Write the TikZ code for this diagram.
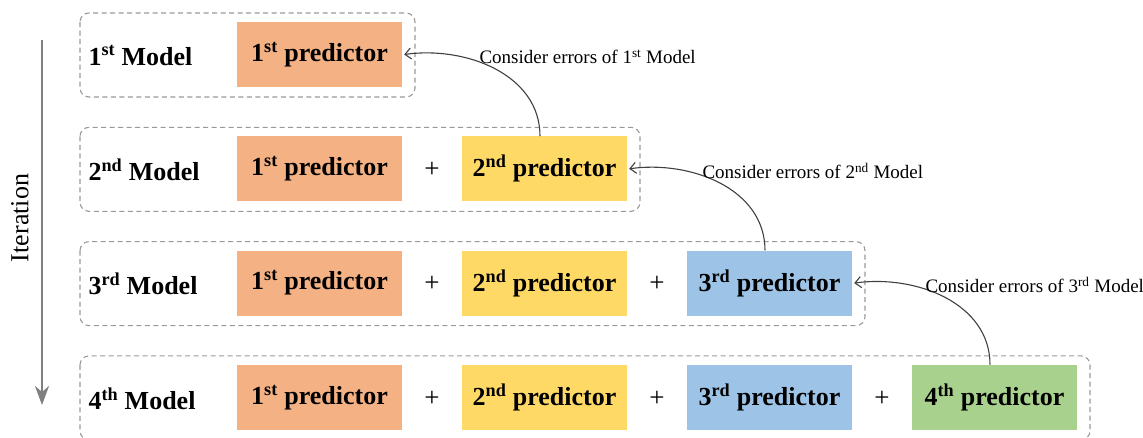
\documentclass[tikz,border=0pt]{standalone}
\usepackage{fontspec}
\setmainfont{Liberation Serif}
\usetikzlibrary{arrows.meta}

\definecolor{col1}{HTML}{F4B183}
\definecolor{col2}{HTML}{FFD966}
\definecolor{col3}{HTML}{9DC3E6}
\definecolor{col4}{HTML}{A9D18E}

% number with its ordinal suffix raised
\newcommand{\ordsup}[1]{#1\textsuperscript{\ifcase#1 \or st\or nd\or rd\or th\fi}}

\begin{document}
\begin{tikzpicture}[x=1pt,y=1pt,
    pred/.style={minimum width=165pt,minimum height=65pt,inner sep=0pt,font=\fontsize{26}{30}\selectfont\bfseries},
    rowbox/.style={draw=black!40,line width=1.1pt,dash pattern=on 5pt off 3.5pt,rounded corners=9pt},
    errarrow/.style={draw=black!75,line width=1.1pt,-{Straight Barb[length=6pt,width=11pt]}},
    iterarrow/.style={draw=black!50,line width=2.8pt,-{Stealth[length=19pt,width=14pt,inset=6pt]}}]
\useasboundingbox (0,0) rectangle (1143,-437);

% one row per model, predictors added one at a time
\foreach \row [evaluate=\row as \y using {-(54.5+(\row-1)*114.3)}] in {1,2,3,4} {
   \draw[rowbox] (80,{\y+41.5}) rectangle ({415+(\row-1)*225},{\y-42.5});
   \node[anchor=west,font=\fontsize{26}{30}\selectfont\bfseries] (m\row) at (85,{\y-1}) {\ordsup{\row} Model};
   \foreach \col in {1,...,\row} {
      \node[pred,fill=col\col] (p\row\col) at ({319.5+(\col-1)*225},{\y}) {\ordsup{\col} predictor};
      \ifnum\col>1
         \node[font=\fontsize{27}{30}\selectfont] (plus\row\col) at ({207+(\col-1)*225},{\y-1}) {+};
      \fi
   }
}

% each new predictor works on the errors of the model before
\foreach \row [evaluate=\row as \nx using int(\row+1), evaluate=\row as \y using {-(56.5+(\row-1)*114.3)}] in {1,2,3} {
   \draw[errarrow] ([xshift=-4.5pt]p\nx\nx.north) to[out=90,in=8] ([xshift=2pt]p\row\row.east);
   \node[anchor=west,font=\fontsize{19}{22}\selectfont] (err\row) at ({476+(\row-1)*223},\y) {Consider errors of \ordsup{\row} Model};
}

\node[rotate=90,font=\fontsize{26}{28}\selectfont] (iter) at (20,-218) {Iteration};
\coordinate (itop) at (42,-40);
\coordinate (ibot) at (42,-405);
\draw[iterarrow] (itop) -- (ibot);
\end{tikzpicture}
\end{document}
